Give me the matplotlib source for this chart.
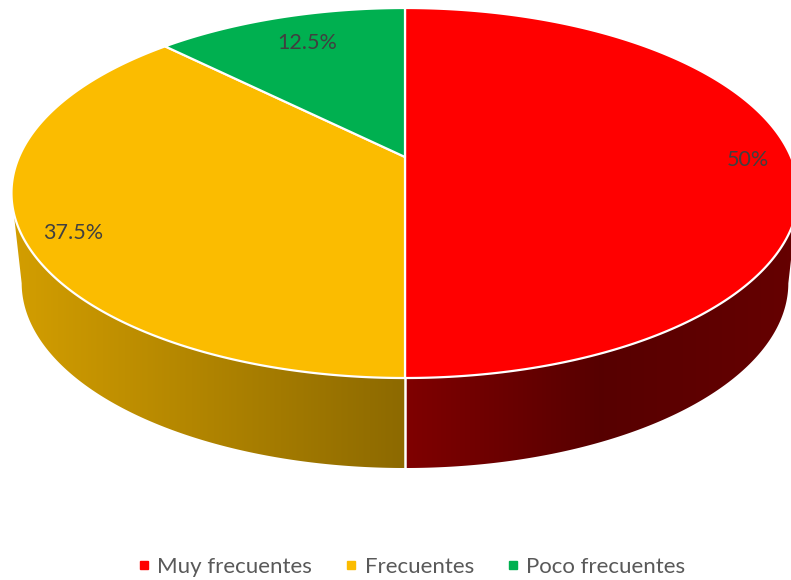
import numpy as np
import matplotlib
matplotlib.use("Agg")
import matplotlib.pyplot as plt
from matplotlib.patches import Polygon
from matplotlib.lines import Line2D
from matplotlib.colors import to_rgb

# ---- data ----
categories = ["Muy frecuentes", "Frecuentes", "Poco frecuentes"]
values = [50.0, 37.5, 12.5]
labels = ["50%", "37.5%", "12.5%"]

# ---- style ----
colors = ["#FF0000", "#FBBC00", "#00B050"]
# side shading anchors (screen x -> brightness factor), per slice
shade_x = [[405, 600, 700, 800], [0, 405], [0, 800]]
shade_f = [[0.50, 0.34, 0.37, 0.40], [0.85, 0.56], [0.6, 0.6]]
label_pos = [(748, 160), (73, 233), (307, 43)]

# perspective geometry (pixel space)
cx, cy, R, A, k = 405.0, 157.0, 386.0, 178.0, 0.1946
cyb, Rb = 247.0, 376.0


def top_pt(theta, r=1.0):
    X = r * np.cos(theta)
    Z = r * np.sin(theta)
    w = 1 + k * Z
    return cx + R * X / w, cy - A * Z / w


def bot_pt(theta):
    X = np.cos(theta)
    Z = np.sin(theta)
    w = 1 + k * Z
    return cx + Rb * X / w, cyb - A * Z / w


fig = plt.figure(figsize=(7.91, 5.80), dpi=100)
ax = fig.add_axes([0, 0, 1, 1])
ax.set_xlim(0, 791)
ax.set_ylim(580, 0)
ax.axis("off")

total = sum(values)
start = np.pi / 2
spans = []
for v in values:
    ang = 2 * np.pi * v / total
    spans.append((start, start - ang))
    start -= ang

# silhouette angles (leftmost / rightmost points of the rim)
samp = np.linspace(0, 2 * np.pi, 7201)
xs = np.array([top_pt(t)[0] for t in samp])
th_left = samp[np.argmin(xs)]
th_right = samp[np.argmax(xs)]

# sides: one polygon per slice (visible front part), filled with horizontal gradient
gx = np.arange(0, 792)
for i, (a0, a1) in enumerate(spans):
    th = np.linspace(a0, a1, 1200)
    tm = np.mod(th, 2 * np.pi)
    th = th[(tm >= th_left) & (tm <= th_right)]
    if len(th) < 2:
        continue
    tops = [top_pt(t) for t in th]
    bots = [bot_pt(t) for t in th[::-1]]
    poly = Polygon(tops + bots, closed=True, facecolor="none", edgecolor="none")
    ax.add_patch(poly)
    base = np.array(to_rgb(colors[i]))
    f = np.interp(gx, shade_x[i], shade_f[i])
    img = np.clip(base[None, None, :] * f[None, :, None], 0, 1)
    img = np.repeat(img, 2, axis=0)
    im = ax.imshow(img, extent=(0, 792, 580, 0), aspect="auto",
                   interpolation="bilinear", zorder=1)
    im.set_clip_path(poly)

# white seam on side at slice boundaries that are in front
for (a0, a1) in spans:
    if np.sin(a0) < -0.2:
        p = top_pt(a0); b = bot_pt(a0)
        ax.plot([p[0], b[0]], [p[1], b[1]], color="white", lw=1.8, zorder=2)

# top wedges
for i, (a0, a1) in enumerate(spans):
    th = np.linspace(a0, a1, 400)
    pts = [top_pt(0, 0)] + [top_pt(t) for t in th]
    ax.add_patch(Polygon(pts, closed=True, facecolor=colors[i], edgecolor="white",
                         linewidth=1.6, joinstyle="round", zorder=3))

# labels
for i, lab in enumerate(labels):
    ax.text(label_pos[i][0], label_pos[i][1], lab, ha="center", va="center",
            fontsize=15.5, color="#404040", family=["Lato", "DejaVu Sans"], zorder=5)

handles = [Line2D([0], [0], marker="s", linestyle="none", markersize=6,
                  markerfacecolor=colors[i], markeredgecolor=colors[i])
           for i in range(len(categories))]
leg = ax.legend(handles, categories, loc="center", bbox_to_anchor=(0.52, 0.022),
                ncol=3, frameon=False, handlelength=0.6, handletextpad=0.3,
                columnspacing=1.45, prop={"family": ["Lato", "DejaVu Sans"], "size": 16})
for t in leg.get_texts():
    t.set_color("#595959")

fig.savefig("out.png", dpi=100)
